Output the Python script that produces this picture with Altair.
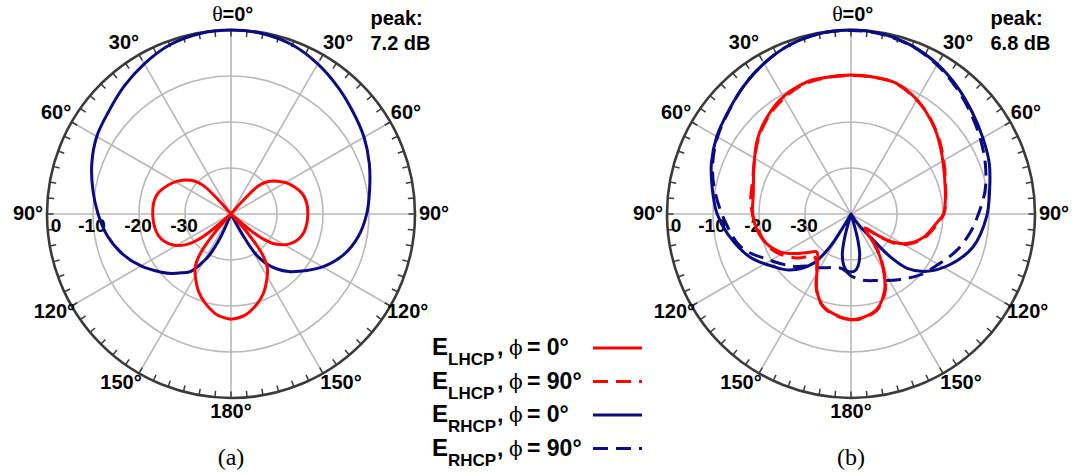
import math
import altair as alt
import pandas as pd

# ---------------- data ----------------
# theta in degrees, clockwise from broadside (theta = 0 at top),
# negative angles = left half of the cut.  Gains in dB normalised to the peak.

# (a)  E_RHCP, phi = 0
A_R0_ANG = [-180, -170, -158, -155.6, -152, -150, -145, -140, -135, -130, -120, -110, -100, -90, -80, -70, -60, -50, -40, -30, -20, -10,
            0,
            10, 20, 30, 40, 50, 60, 70, 80, 90, 100, 110, 120, 130, 135, 140, 145, 148.6, 151, 153, 170, 180]
A_R0_DB = [-40, -40, -40, -34.2, -29.6, -28.2, -24.8, -23.3, -21.7, -20.3, -17.4, -14.8, -12.7, -11.1, -9.5, -7.8, -6.3, -5.3, -3.8, -2.3, -0.9, -0.2,
           0.0,
           -0.2, -0.9, -2.3, -3.9, -5.4, -6.6, -8.0, -9.4, -10.5, -11.9, -14.0, -17.0, -20.6, -22.3, -24.4, -27.0, -30.0, -35.0, -40, -40, -40]

# (a)  E_LHCP, phi = 0
A_L0_ANG = [-180, -172, -164, -158, -151, -146, -142, -139, -137, -132, -130, -128, -124, -117, -107, -92, -76, -63, -55, -48, -44, -42, -40,
            0,
            40, 42, 44, 48, 55, 63, 76, 91, 107, 117, 124, 128, 130, 132, 136, 139, 142, 146, 151, 158, 164, 172, 180]
A_L0_DB = [-17.1, -17.9, -19.8, -21.5, -24.1, -26.1, -29.3, -34.6, -40, -40, -34.4, -31.0, -28.0, -25.4, -23.6, -23.0, -23.3, -25.4, -27.2, -29.3, -31.5, -35.7, -40,
           -40,
           -40, -35.7, -31.7, -29.6, -27.6, -25.7, -23.7, -23.3, -23.9, -25.7, -28.3, -31.3, -34.6, -40, -40, -34.6, -29.1, -25.9, -23.9, -21.3, -19.6, -17.8, -17.1]

# (b)  E_RHCP, phi = 0
B_R0_ANG = [-180, -176, -172, -168, -165, -162, -151, -149, -147.3, -142.6, -132.6, -124, -113, -99, -90, -80, -70, -60, -50, -40, -30, -20, -10,
            0,
            10, 20, 30, 40, 50, 60, 70, 80, 91, 105, 117, 127, 134, 137.5, 139.5, 144, 147, 162, 165, 168, 172, 176, 180]
B_R0_DB = [-27.4, -27.6, -28.7, -30.9, -34.6, -40, -40, -36.7, -31.5, -26.5, -22.0, -19.6, -16.1, -12.8, -10.9, -9.4, -7.7, -6.3, -5.2, -3.7, -2.2, -0.9, -0.2,
           0.0,
           -0.3, -1.1, -2.4, -4.0, -5.6, -6.9, -8.0, -9.4, -10.5, -12.5, -15.8, -19.3, -23.0, -27.4, -32.6, -36.7, -40, -40, -34.6, -30.9, -28.7, -27.6, -27.4]

# (b)  E_RHCP, phi = 90
B_R90_ANG = [-180, -170, -160, -150, -140, -132, -119, -107, -93.5, -80, -70, -60, -50, -40, -30, -20, -10,
             0,
             10, 20, 30, 40, 50, 60, 70, 80, 90, 99, 109, 119, 131.5, 143, 159, 170, 180]
B_R90_DB = [-26.5, -28.0, -27.6, -26.5, -25.2, -23.0, -19.5, -15.1, -12.6, -9.9, -8.0, -6.5, -5.3, -3.7, -2.2, -0.9, -0.2,
            -0.1,
            -0.4, -1.2, -2.6, -4.3, -6.0, -7.5, -8.9, -10.4, -12.3, -13.8, -15.7, -17.9, -20.0, -22.2, -24.5, -25.4, -26.5]

# (b)  E_LHCP, phi = 0
B_L0_ANG = [-180, -174, -163.4, -155.7, -147.4, -142, -137.7, -133, -126, -118, -106.5, -92, -78, -65, -53, -45, -32, -18.5, -10,
            0,
            10, 19, 30, 37, 45, 53, 63, 74, 82, 90, 96, 108, 118, 124, 128, 131, 135, 139, 142, 146, 151, 156, 165, 175, 180]
B_L0_DB = [-17.0, -17.5, -19.0, -21.9, -26.4, -28.3, -28.9, -27.8, -25.4, -22.5, -20.1, -18.7, -18.3, -16.7, -14.3, -12.8, -10.8, -9.7, -9.8,
           -9.8,
           -9.8, -9.9, -11.3, -12.6, -14.1, -15.7, -17.4, -18.7, -19.3, -19.9, -21.3, -23.5, -26.3, -29.1, -32.2, -34.1, -35.7, -35.0, -32.0, -28.7, -25.2, -22.0, -18.5, -17.2, -17.0]

# (b)  E_LHCP, phi = 90
B_L90_ANG = [-180, -174, -163.4, -155.7, -147.4, -142, -138, -129, -115, -99, -84, -70, -60, -50, -40, -30, -20, -10,
             0,
             10, 19, 30, 37, 45, 53, 63, 74, 82, 90, 96, 108, 118, 124, 127, 130, 134, 138, 142, 146, 151, 156, 165, 175, 180]
B_L90_DB = [-17.0, -17.4, -18.9, -21.8, -26.2, -27.6, -27.7, -24.8, -21.3, -19.4, -18.1, -17.3, -15.8, -13.9, -12.2, -10.9, -10.0, -9.9,
            -9.9,
            -9.9, -10.0, -11.4, -12.5, -14.0, -15.5, -17.2, -18.6, -19.2, -19.8, -21.0, -23.2, -26.0, -28.6, -31.0, -33.6, -35.4, -34.8, -31.6, -28.4, -24.9, -21.7, -18.3, -17.1, -17.0]

PEAK = {"a": "7.2 dB", "b": "6.8 dB"}
PANEL_TAG = {"a": "(a)", "b": "(b)"}
RING_LEVELS = [-30, -20, -10]
RING_LABEL_LEVELS = [0, -10, -20, -30]
RING_LABELS = ["0", "-10", "-20", "-30"]
ANGLE_LABELS = [30, 60, 90, 120, 150, 180]
LEG_POL = ["LHCP", "LHCP", "RHCP", "RHCP"]
LEG_PHI = ["0°", "90°", "0°", "90°"]

# ---------------- layout / style ----------------
W, H = 1073, 475
CX = {"a": 231.0, "b": 851.0}
CY = 214.0
R = 184.0
FLOOR = -40.0
RED = "#ff0000"
BLUE = "#0b0b82"
GRID = "#b8b8b8"
RIM = "#3a3a3a"
SANS = "Liberation Sans"
SERIF = "Liberation Serif"
DASH = [15, 8]

xs = alt.Scale(domain=[0, W], nice=False, zero=False)
ys = alt.Scale(domain=[H, 0], nice=False, zero=False)


def X(f):
    return alt.X(f"{f}:Q", scale=xs, axis=None)


def Y(f):
    return alt.Y(f"{f}:Q", scale=ys, axis=None)


CX_EXPR = "(datum.panel == 'a' ? 231 : 851)"
R_EXPR = f"(max(0, (datum.gain - ({FLOOR})) / (0 - ({FLOOR}))) * {R})"

layers = []

# grid rings
rings = pd.DataFrame([{"panel": p, "gain": g} for p in CX for g in RING_LEVELS])
layers.append(
    alt.Chart(rings).transform_calculate(
        cx=CX_EXPR, cy=str(CY), sz=f"pow(2 * {R_EXPR}, 2)"
    ).mark_point(shape="circle", filled=False, strokeWidth=1.6, color=GRID, opacity=1).encode(
        x=X("cx"), y=Y("cy"), size=alt.Size("sz:Q", scale=None, legend=None)
    )
)

# spokes
spokes = pd.DataFrame([{"panel": p, "theta": a} for p in CX for a in range(0, 360, 30)])
layers.append(
    alt.Chart(spokes).transform_calculate(
        cx=CX_EXPR, cy=str(CY),
        ex=f"{CX_EXPR} + {R} * sin(datum.theta * PI / 180)",
        ey=f"{CY} - {R} * cos(datum.theta * PI / 180)",
    ).mark_rule(color=GRID, strokeWidth=1.6).encode(
        x=X("cx"), y=Y("cy"), x2=alt.X2("ex:Q"), y2=alt.Y2("ey:Q")
    )
)

# outer rim
rim = pd.DataFrame([{"panel": p, "gain": 0.0} for p in CX])
layers.append(
    alt.Chart(rim).transform_calculate(
        cx=CX_EXPR, cy=str(CY), sz=f"pow(2 * {R_EXPR}, 2)"
    ).mark_point(shape="circle", filled=False, strokeWidth=2.6, color=RIM, opacity=1).encode(
        x=X("cx"), y=Y("cy"), size=alt.Size("sz:Q", scale=None, legend=None)
    )
)

# rim ticks every 5 degrees
ticks = pd.DataFrame([{"panel": p, "theta": a} for p in CX for a in range(0, 360, 5)])
layers.append(
    alt.Chart(ticks).transform_calculate(
        x1=f"{CX_EXPR} + {R - 6.5} * sin(datum.theta * PI / 180)",
        y1=f"{CY} - {R - 6.5} * cos(datum.theta * PI / 180)",
        x2=f"{CX_EXPR} + {R} * sin(datum.theta * PI / 180)",
        y2=f"{CY} - {R} * cos(datum.theta * PI / 180)",
    ).mark_rule(color=RIM, strokeWidth=1.5).encode(
        x=X("x1"), y=Y("y1"), x2=alt.X2("x2:Q"), y2=alt.Y2("y2:Q")
    )
)


def text_layer(df, font, size, weight="bold", align="center", baseline="alphabetic", color="black"):
    return alt.Chart(df).mark_text(
        font=font, fontSize=size, fontWeight=weight, align=align, baseline=baseline, color=color
    ).encode(x=X("x"), y=Y("y"), text="t:N")


# ring (dB) labels, drawn beneath the curves
rl = []
for p, cx in CX.items():
    for lvl, t in zip(RING_LABEL_LEVELS, RING_LABELS):
        r = (lvl - FLOOR) / (0 - FLOOR) * R
        rl.append({"x": cx - r - 1 + (10 if lvl == 0 else 0), "y": CY + 18, "t": t})
layers.append(text_layer(pd.DataFrame(rl), SANS, 19))

# curves
curve_defs = [
    ("a", "RHCP", "0", A_R0_ANG, A_R0_DB),
    ("b", "RHCP", "0", B_R0_ANG, B_R0_DB),
    ("b", "RHCP", "90", B_R90_ANG, B_R90_DB),
    ("a", "LHCP", "0", A_L0_ANG, A_L0_DB),
    ("b", "LHCP", "0", B_L0_ANG, B_L0_DB),
    ("b", "LHCP", "90", B_L90_ANG, B_L90_DB),
]
for panel, pol, phi, angs, gains in curve_defs:
    assert len(angs) == len(gains), (panel, pol, phi)
    df = pd.DataFrame({"panel": panel, "idx": list(range(len(angs))), "theta": angs, "gain": gains})
    mk = dict(interpolate="catmull-rom", strokeWidth=3, color=RED if pol == "LHCP" else BLUE,
              strokeCap="butt", strokeJoin="round")
    if phi == "90":
        mk["strokeDash"] = DASH
    layers.append(
        alt.Chart(df).transform_calculate(
            px=f"{CX_EXPR} + {R_EXPR} * sin(datum.theta * PI / 180)",
            py=f"{CY} - {R_EXPR} * cos(datum.theta * PI / 180)",
        ).mark_line(**mk).encode(x=X("px"), y=Y("py"), order="idx:Q")
    )

# angle labels
NUDGE = {30: 32, 120: 119, 150: 147}
LAB_R = {90: 203, 180: 198}
al = []
for p, cx in CX.items():
    for a in ANGLE_LABELS:
        for s in ([1, -1] if a != 180 else [1]):
            pa = NUDGE.get(a, a) * s
            r = LAB_R.get(a, 202)
            al.append({"x": cx + r * math.sin(math.radians(pa)),
                       "y": CY - r * math.cos(math.radians(pa)), "t": f"{a}°"})
layers.append(text_layer(pd.DataFrame(al), SANS, 20, baseline="middle"))

# theta = 0 label
layers.append(text_layer(pd.DataFrame([{"x": cx - 13.5, "y": 21, "t": "θ"} for cx in CX.values()]),
                         SERIF, 22, weight="normal"))
layers.append(text_layer(pd.DataFrame([{"x": cx - 8.5, "y": 21, "t": "=0°"} for cx in CX.values()]),
                         SANS, 20, align="left"))

# peak annotations
pk = []
for p, cx in CX.items():
    pk.append({"x": cx + 139.5, "y": 25, "t": "peak:"})
    pk.append({"x": cx + 139.5, "y": 50, "t": PEAK[p]})
layers.append(text_layer(pd.DataFrame(pk), SANS, 20, align="left"))

# panel tags
layers.append(text_layer(pd.DataFrame([{"x": CX[p], "y": 465, "t": PANEL_TAG[p]} for p in CX]),
                         SERIF, 24, weight="normal"))

# legend
ROW0, ROWSTEP = 348.0, 33.5
leg_lines = pd.DataFrame([{"x": 593, "x2": 642, "y": ROW0 + i * ROWSTEP, "pol": LEG_POL[i], "phi": LEG_PHI[i]}
                          for i in range(4)])
layers.append(
    alt.Chart(leg_lines).mark_rule(strokeWidth=3, strokeCap="butt").encode(
        x=X("x"), x2=alt.X2("x2:Q"), y=Y("y"),
        color=alt.Color("pol:N", scale=alt.Scale(domain=["LHCP", "RHCP"], range=[RED, BLUE]), legend=None),
        strokeDash=alt.StrokeDash("phi:N", scale=alt.Scale(domain=["0°", "90°"], range=[[1, 0], DASH]), legend=None),
    )
)
layers.append(text_layer(pd.DataFrame([{"x": 432, "y": ROW0 + i * ROWSTEP + 7, "t": "E"} for i in range(4)]),
                         SANS, 24, align="left"))
layers.append(text_layer(pd.DataFrame([{"x": 448, "y": ROW0 + i * ROWSTEP + 17, "t": LEG_POL[i]} for i in range(4)]),
                         SANS, 17, align="left"))
layers.append(text_layer(pd.DataFrame([{"x": 497, "y": ROW0 + i * ROWSTEP + 7, "t": ","} for i in range(4)]),
                         SANS, 23, align="left"))
layers.append(text_layer(pd.DataFrame([{"x": 509, "y": ROW0 + i * ROWSTEP + 7, "t": "ϕ"} for i in range(4)]),
                         "DejaVu Serif", 20, weight="normal", align="left"))
layers.append(text_layer(pd.DataFrame([{"x": 527, "y": ROW0 + i * ROWSTEP + 7, "t": "= " + LEG_PHI[i]} for i in range(4)]),
                         SANS, 23, align="left"))

chart = alt.layer(*layers).properties(
    width=W, height=H, padding=0, background="white",
    autosize=alt.AutoSizeParams(type="none"),
).configure_view(strokeWidth=0)

chart.save("out.html", embed_options={"renderer": "svg", "actions": False})
